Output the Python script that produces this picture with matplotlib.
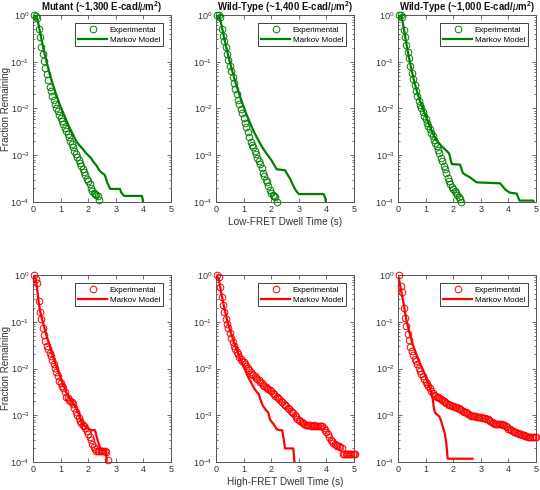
import numpy as np
import matplotlib
matplotlib.use("Agg")
import matplotlib.pyplot as plt
from matplotlib.ticker import LogLocator, NullFormatter, FixedLocator

plt.rcParams['font.family'] = ['Liberation Sans', 'DejaVu Sans']
plt.rcParams['mathtext.fontset'] = 'custom'
plt.rcParams['mathtext.rm'] = 'Liberation Sans'
plt.rcParams['mathtext.it'] = 'Liberation Sans:italic'
plt.rcParams['mathtext.bf'] = 'Liberation Sans:bold'

# ---------------- data (log10 of fraction remaining) ----------------
titles = [r'Mutant (~1,300 E-cad/$\mu$m$^\mathbf{2}$)',
          r'Wild-Type (~1,400 E-cad/$\mu$m$^\mathbf{2}$)',
          r'Wild-Type (~1,000 E-cad/$\mu$m$^\mathbf{2}$)']
xlabel_top = 'Low-FRET Dwell Time (s)'
xlabel_bot = 'High-FRET Dwell Time (s)'
ylabel = 'Fraction Remaining'
legend_labels = ['Experimental', 'Markov Model']

# Panel 1 (Mutant, low-FRET)
p1_exp_t = [0.05, 0.1, 0.15, 0.2, 0.25, 0.3, 0.35, 0.4, 0.45, 0.5, 0.55, 0.6, 0.65, 0.7, 0.75, 0.8,
            0.85, 0.9, 0.95, 1.0, 1.05, 1.1, 1.15, 1.2, 1.25, 1.3, 1.35, 1.4, 1.45, 1.5, 1.55, 1.6,
            1.65, 1.7, 1.75, 1.8, 1.85, 1.9, 1.95, 2.0, 2.05, 2.1, 2.15, 2.2, 2.25, 2.3, 2.35, 2.4]
p1_exp_log = [0, -0.02, -0.06, -0.3, -0.48, -0.68, -0.84, -0.98, -1.13, -1.27, -1.4, -1.53, -1.63,
              -1.73, -1.82, -1.9, -1.98, -2.06, -2.13, -2.2, -2.27, -2.34, -2.41, -2.48, -2.55, -2.62,
              -2.69, -2.76, -2.83, -2.9, -2.98, -3.04, -3.1, -3.16, -3.22, -3.3, -3.36, -3.42, -3.5,
              -3.56, -3.62, -3.7, -3.76, -3.8, -3.82, -3.84, -3.88, -3.96]
p1_mod_t = [0, 0.1, 0.15, 0.2, 0.3, 0.4, 0.5, 0.6, 0.7, 0.8, 0.9, 1.0, 1.1, 1.2, 1.3, 1.4, 1.5, 1.6,
            1.7, 1.8, 1.9, 2.0, 2.1, 2.2, 2.3, 2.4, 2.5, 2.6, 2.7, 2.8, 3.15, 3.2, 3.3, 3.95, 4.0]
p1_mod_log = [0, -0.01, -0.08, -0.2, -0.5, -0.78, -1.02, -1.25, -1.45, -1.63, -1.8, -1.96, -2.1,
              -2.24, -2.38, -2.5, -2.62, -2.73, -2.8, -2.86, -2.94, -3.0, -3.06, -3.15, -3.22, -3.32,
              -3.38, -3.42, -3.6, -3.72, -3.72, -3.8, -3.87, -3.87, -4.05]

# Panel 2 (Wild-type ~1,400, low-FRET)
p2_exp_t = [0.05, 0.1, 0.15, 0.2, 0.25, 0.3, 0.35, 0.4, 0.45, 0.5, 0.55, 0.6, 0.65, 0.7, 0.75, 0.8,
            0.85, 0.9, 0.95, 1.0, 1.05, 1.1, 1.15, 1.2, 1.25, 1.3, 1.35, 1.4, 1.45, 1.5, 1.55, 1.6,
            1.65, 1.7, 1.75, 1.8, 1.85, 1.9, 1.95, 2.0, 2.05, 2.1, 2.15, 2.2]
p2_exp_log = [0, 0, -0.04, -0.3, -0.44, -0.56, -0.68, -0.84, -0.97, -1.09, -1.2, -1.32, -1.45, -1.58,
              -1.7, -1.81, -1.91, -2.01, -2.1, -2.2, -2.3, -2.39, -2.5, -2.62, -2.72, -2.78, -2.83,
              -2.9, -2.98, -3.06, -3.12, -3.19, -3.28, -3.37, -3.44, -3.52, -3.58, -3.66, -3.74,
              -3.8, -3.84, -3.87, -3.9, -4.0]
p2_mod_t = [0, 0.1, 0.15, 0.2, 0.3, 0.4, 0.5, 0.6, 0.7, 0.8, 0.9, 1.0, 1.1, 1.2, 1.3, 1.4, 1.5, 1.6,
            1.7, 1.8, 1.9, 2.0, 2.1, 2.2, 2.5, 2.6, 2.7, 2.8, 2.9, 3.0, 3.9, 3.95, 4.0]
p2_mod_log = [0, -0.01, -0.1, -0.22, -0.5, -0.76, -1.0, -1.22, -1.43, -1.62, -1.8, -1.96, -2.12,
              -2.26, -2.4, -2.53, -2.64, -2.75, -2.85, -2.94, -3.02, -3.1, -3.2, -3.3, -3.32, -3.42,
              -3.52, -3.65, -3.76, -3.83, -3.83, -3.9, -4.05]

# Panel 3 (Wild-type ~1,000, low-FRET)
p3_exp_t = [0.05, 0.1, 0.15, 0.2, 0.25, 0.3, 0.35, 0.4, 0.45, 0.5, 0.55, 0.6, 0.65, 0.7, 0.75, 0.8,
            0.85, 0.9, 0.95, 1.0, 1.05, 1.1, 1.15, 1.2, 1.25, 1.3, 1.35, 1.4, 1.45, 1.5, 1.55, 1.6,
            1.65, 1.7, 1.75, 1.8, 1.85, 1.9, 1.95, 2.0, 2.05, 2.1, 2.15, 2.2, 2.25, 2.3]
p3_exp_log = [0, 0, -0.05, -0.33, -0.48, -0.65, -0.8, -0.93, -1.09, -1.24, -1.37, -1.49, -1.62,
              -1.73, -1.83, -1.92, -2.0, -2.08, -2.15, -2.22, -2.3, -2.37, -2.44, -2.52, -2.59,
              -2.67, -2.74, -2.81, -2.88, -2.96, -3.05, -3.13, -3.22, -3.3, -3.39, -3.48, -3.56,
              -3.62, -3.67, -3.72, -3.77, -3.81, -3.85, -3.89, -3.94, -4.0]
p3_mod_t = [0, 0.1, 0.15, 0.2, 0.3, 0.4, 0.5, 0.6, 0.7, 0.8, 0.9, 1.0, 1.1, 1.2, 1.3, 1.4, 1.5, 1.6,
            1.7, 1.8, 1.85, 1.95, 2.25, 2.35, 2.45, 2.6, 2.85, 3.7, 3.8, 3.9, 4.05, 4.3, 4.4, 4.9, 4.95]
p3_mod_log = [0, -0.01, -0.1, -0.25, -0.6, -0.92, -1.2, -1.45, -1.66, -1.84, -2.0, -2.15, -2.3,
              -2.45, -2.58, -2.68, -2.75, -2.82, -2.87, -2.93, -2.96, -3.19, -3.2, -3.38, -3.42,
              -3.47, -3.58, -3.6, -3.67, -3.74, -3.8, -3.82, -3.97, -3.97, -4.05]

# Panel 4 (Mutant, high-FRET)
p4_exp_t = [0.05, 0.1, 0.15, 0.2, 0.25, 0.3, 0.35, 0.4, 0.45, 0.5, 0.55, 0.6, 0.65, 0.7, 0.75, 0.8,
            0.85, 0.9, 0.95, 1.0, 1.05, 1.1, 1.15, 1.2, 1.25, 1.3, 1.35, 1.4, 1.45, 1.5, 1.55, 1.6,
            1.65, 1.7, 1.75, 1.8, 1.85, 1.9, 1.95, 2.0, 2.05, 2.1, 2.15, 2.2, 2.25, 2.3, 2.35, 2.4,
            2.45, 2.5, 2.55, 2.6, 2.65, 2.7]
p4_exp_log = [0, -0.08, -0.17, -0.55, -0.8, -0.95, -1.13, -1.28, -1.42, -1.51, -1.59, -1.67, -1.74,
              -1.82, -1.91, -1.99, -2.08, -2.17, -2.26, -2.32, -2.37, -2.42, -2.5, -2.6, -2.64,
              -2.67, -2.69, -2.72, -2.76, -2.85, -2.94, -3.0, -3.06, -3.12, -3.16, -3.2, -3.24,
              -3.27, -3.33, -3.4, -3.46, -3.54, -3.62, -3.67, -3.72, -3.76, -3.76, -3.76, -3.76,
              -3.77, -3.77, -3.77, -3.78, -3.96]
p4_mod_t = [0, 0.1, 0.15, 0.2, 0.25, 0.3, 0.4, 0.5, 0.6, 0.7, 0.8, 0.9, 1.0, 1.1, 1.2, 1.3, 1.4, 1.5,
            1.6, 1.7, 1.8, 1.9, 2.0, 2.1, 2.25, 2.3, 2.4, 2.5, 2.65, 2.67]
p4_mod_log = [0, -0.1, -0.3, -0.55, -0.75, -0.88, -1.1, -1.32, -1.5, -1.7, -1.87, -2.04, -2.2, -2.35,
              -2.5, -2.62, -2.7, -2.78, -2.88, -3.05, -3.2, -3.24, -3.28, -3.32, -3.32, -3.45,
              -3.65, -3.75, -3.75, -4.05]

# Panel 5 (Wild-type ~1,400, high-FRET)
p5_exp_t = [round(0.05 * k, 2) for k in range(1, 102)]
p5_exp_log = [0, -0.04, -0.25, -0.47, -0.64, -0.8, -0.94, -1.05, -1.14, -1.23, -1.34, -1.43, -1.51,
              -1.58, -1.64, -1.7, -1.75, -1.8, -1.84, -1.87, -1.91, -1.95, -1.99, -2.03, -2.07,
              -2.11, -2.14, -2.17, -2.2, -2.22, -2.25, -2.28, -2.31, -2.35, -2.37, -2.39, -2.41,
              -2.43, -2.46, -2.49, -2.52, -2.55, -2.58, -2.6, -2.63, -2.66, -2.69, -2.72, -2.75,
              -2.78, -2.81, -2.84, -2.87, -2.9, -2.93, -2.96, -3.0, -3.04, -3.08, -3.11, -3.13,
              -3.15, -3.17, -3.19, -3.2, -3.21, -3.21, -3.21, -3.22, -3.22, -3.21, -3.22, -3.23,
              -3.22, -3.22, -3.23, -3.24, -3.27, -3.31, -3.36, -3.41, -3.46, -3.52, -3.56, -3.59,
              -3.62, -3.64, -3.66, -3.66, -3.67, -3.7, -3.82, -3.82, -3.82, -3.82, -3.82, -3.82,
              -3.82, -3.82, -3.82, -3.82]
p5_mod_t = [0, 0.1, 0.15, 0.2, 0.3, 0.4, 0.5, 0.6, 0.7, 0.8, 0.9, 1.0, 1.1, 1.2, 1.3, 1.4, 1.5, 1.55,
            1.6, 1.7, 1.8, 1.9, 1.95, 2.0, 2.1, 2.2, 2.3, 2.4, 2.45, 2.5, 2.8, 2.85]
p5_mod_log = [0, -0.08, -0.25, -0.42, -0.7, -0.96, -1.16, -1.34, -1.52, -1.67, -1.81, -1.95, -2.1,
              -2.22, -2.33, -2.44, -2.52, -2.54, -2.65, -2.8, -2.88, -2.95, -3.08, -3.13, -3.2,
              -3.3, -3.32, -3.32, -3.5, -3.71, -3.71, -4.05]

# Panel 6 (Wild-type ~1,000, high-FRET)
p6_exp_t = [round(0.05 * k, 2) for k in range(1, 101)]
p6_exp_log = [0, -0.24, -0.37, -0.7, -0.92, -1.1, -1.26, -1.4, -1.53, -1.63, -1.72, -1.79, -1.85,
              -1.91, -1.98, -2.05, -2.11, -2.17, -2.23, -2.28, -2.33, -2.37, -2.42, -2.48, -2.52,
              -2.56, -2.58, -2.6, -2.62, -2.63, -2.65, -2.67, -2.69, -2.71, -2.73, -2.75, -2.78,
              -2.79, -2.8, -2.81, -2.82, -2.83, -2.84, -2.85, -2.86, -2.88, -2.9, -2.92, -2.94,
              -2.96, -2.98, -3.0, -3.01, -3.01, -3.02, -3.02, -3.03, -3.03, -3.04, -3.04, -3.05,
              -3.05, -3.06, -3.07, -3.08, -3.1, -3.12, -3.14, -3.16, -3.18, -3.18, -3.18, -3.18,
              -3.19, -3.19, -3.2, -3.21, -3.23, -3.26, -3.29, -3.3, -3.31, -3.33, -3.35, -3.36,
              -3.37, -3.38, -3.4, -3.41, -3.42, -3.43, -3.44, -3.45, -3.46, -3.46, -3.46, -3.46,
              -3.46, -3.46, -3.46]
p6_mod_t = [0, 0.1, 0.2, 0.3, 0.4, 0.5, 0.6, 0.7, 0.8, 0.9, 1.0, 1.1, 1.2, 1.25, 1.3, 1.35, 1.4, 1.5,
            1.55, 1.6, 1.7, 1.75, 1.8, 2.7]
p6_mod_log = [0, -0.3, -0.6, -0.95, -1.2, -1.42, -1.6, -1.75, -1.9, -2.03, -2.17, -2.33, -2.5,
              -2.62, -2.85, -2.95, -2.98, -3.03, -3.1, -3.2, -3.4, -3.6, -3.93, -3.93]

panels = [
    (p1_exp_t, p1_exp_log, p1_mod_t, p1_mod_log),
    (p2_exp_t, p2_exp_log, p2_mod_t, p2_mod_log),
    (p3_exp_t, p3_exp_log, p3_mod_t, p3_mod_log),
    (p4_exp_t, p4_exp_log, p4_mod_t, p4_mod_log),
    (p5_exp_t, p5_exp_log, p5_mod_t, p5_mod_log),
    (p6_exp_t, p6_exp_log, p6_mod_t, p6_mod_log),
]

green = '#008000'
red = '#ff0000'
spine_col = '#555555'
text_col = '#333333'

fig = plt.figure(figsize=(5.4, 4.9), dpi=100)
W, H = 540.0, 490.0
lefts = [33, 216, 398]
width = 138
tops = [15, 275]
height = 187

for i, (et, el, mt, ml) in enumerate(panels):
    row, col = divmod(i, 3)
    ax = fig.add_axes([lefts[col] / W, 1 - (tops[row] + height) / H, width / W, height / H])
    c = green if row == 0 else red
    ax.set_yscale('log')
    ax.set_xlim(0, 5)
    ax.set_ylim(1e-4, 1)
    ey = 10 ** np.array(el)
    my = 10 ** np.array(ml)
    ax.plot(et, ey, 'o', mfc='none', mec=c, ms=4.8, mew=0.7, clip_on=False,
            label=legend_labels[0], zorder=3)
    ax.plot(mt, my, '-', color=c, lw=1.6, label=legend_labels[1], zorder=2)

    ax.xaxis.set_major_locator(FixedLocator([0, 1, 2, 3, 4, 5]))
    ax.yaxis.set_major_locator(LogLocator(base=10, numticks=10))
    ax.yaxis.set_minor_locator(LogLocator(base=10, subs=np.arange(2, 10), numticks=10))
    ax.yaxis.set_minor_formatter(NullFormatter())
    ax.tick_params(which='both', direction='in', top=True, right=True,
                   colors=spine_col, labelcolor=text_col, labelsize=6.5, width=0.6)
    ax.tick_params(which='major', length=3, pad=2.5)
    ax.tick_params(which='minor', length=1.6)
    for s in ax.spines.values():
        s.set_color(spine_col)
        s.set_linewidth(0.7)

    leg = ax.legend(loc='upper right', bbox_to_anchor=(0.94, 0.955), fontsize=5.8,
                    frameon=True, fancybox=False, framealpha=1, edgecolor='#222222',
                    handlelength=3.6, handletextpad=0.3, borderpad=0.35, labelspacing=0.25,
                    borderaxespad=0)
    leg.get_frame().set_linewidth(0.6)

    if row == 0:
        ax.set_title(titles[col], fontsize=6.9, fontweight='bold', pad=1.0, color='#111111')
    if col == 0:
        ax.set_ylabel(ylabel, fontsize=7, color=text_col)
        ax.yaxis.set_label_coords(-0.16, 0.5)
    if col == 1:
        ax.set_xlabel(xlabel_top if row == 0 else xlabel_bot, fontsize=7.2, color=text_col,
                      labelpad=2)

fig.savefig('out.png', dpi=100)
